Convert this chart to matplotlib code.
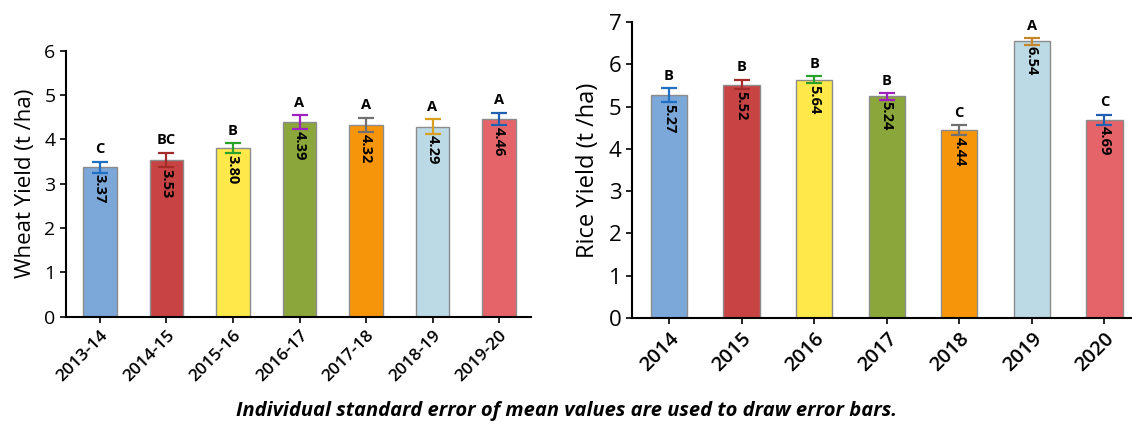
import matplotlib.pyplot as plt

plt.rcParams['font.family'] = ['Open Sans', 'DejaVu Sans']

# wheat yields by season
wheat_seasons = ['2013-14', '2014-15', '2015-16', '2016-17', '2017-18', '2018-19', '2019-20']
wheat_yield = [3.37, 3.53, 3.80, 4.39, 4.32, 4.29, 4.46]
wheat_se = [0.12, 0.16, 0.11, 0.15, 0.16, 0.16, 0.14]
wheat_groups = ['C', 'BC', 'B', 'A', 'A', 'A', 'A']

# rice yields by year
rice_years = ['2014', '2015', '2016', '2017', '2018', '2019', '2020']
rice_yield = [5.27, 5.52, 5.64, 5.24, 4.44, 6.54, 4.69]
rice_se = [0.16, 0.11, 0.08, 0.075, 0.12, 0.075, 0.12]
rice_groups = ['B', 'B', 'B', 'B', 'C', 'A', 'C']

bar_colors = ['#7BA7D9', '#C84444', '#FFE94A', '#8BA63A', '#F7950A', '#BBDAE6', '#E4646A']
wheat_err_colors = ['#1F6FC5', '#A52A2A', '#2CA02C', '#A020C0', '#707070', '#D9A020', '#2060B0']
rice_err_colors = ['#1F6FC5', '#A52A2A', '#2CA02C', '#A020C0', '#707070', '#C8862A', '#2060B0']


def yield_bars(ax, labels, values, errs, groups, err_colors, ymax, ylabel,
               tick_size, xtick_size, label_size, xright):
    x = range(len(labels))
    ax.bar(x, values, width=0.5, color=bar_colors, edgecolor='#8C8C8C', linewidth=1, zorder=2)
    for i, v in enumerate(values):
        ax.errorbar(i, v, yerr=errs[i], color=err_colors[i], capsize=6, elinewidth=1.6,
                    capthick=1.6, zorder=3)
        ax.text(i, v + errs[i] + 0.13, groups[i], ha='center', va='bottom',
                fontsize=10.5, fontweight='bold')
        ax.text(i, v - errs[i] - 0.04, '%.2f' % v, ha='center', va='top', rotation=-90,
                fontsize=10.5, fontweight='bold')
    ax.set_xlim(-0.51, xright)
    ax.set_ylim(0, ymax)
    ax.set_yticks(range(ymax + 1))
    ax.set_xticks(list(x))
    ax.set_xticklabels(labels, rotation=45, ha='right', rotation_mode='anchor',
                       fontsize=xtick_size, fontweight='semibold')
    ax.tick_params(axis='y', labelsize=tick_size, length=4, width=1.2)
    ax.tick_params(axis='x', length=4, width=1.2)
    ax.set_ylabel(ylabel, fontsize=label_size, labelpad=6)
    for s in ['top', 'right']:
        ax.spines[s].set_visible(False)
    for s in ['left', 'bottom']:
        ax.spines[s].set_linewidth(1.5)


fig = plt.figure(figsize=(11.32, 4.28), dpi=100)
ax1 = fig.add_axes([0.0583, 0.26, 0.4108, 0.6215])
ax2 = fig.add_axes([0.5583, 0.257, 0.4417, 0.6916])

yield_bars(ax1, wheat_seasons, wheat_yield, wheat_se, wheat_groups, wheat_err_colors,
           6, 'Wheat Yield (t /ha)', 14, 12.5, 16, 6.48)
yield_bars(ax2, rice_years, rice_yield, rice_se, rice_groups, rice_err_colors,
           7, 'Rice Yield (t /ha)', 16, 14.5, 17, 6.38)

fig.text(0.5, 0.04, 'Individual standard error of mean values are used to draw error bars.',
         ha='center', va='center', fontsize=14.5, fontweight='bold', style='italic')

plt.savefig('out.png', dpi=100)
